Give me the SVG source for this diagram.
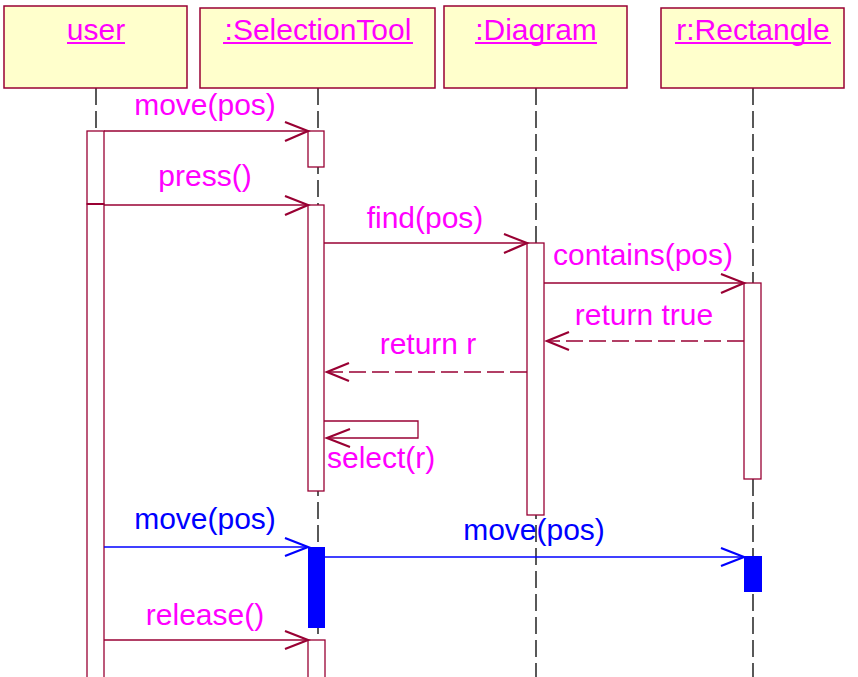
<svg xmlns="http://www.w3.org/2000/svg" width="858" height="677" viewBox="0 0 858 677">
<style>
.box{fill:#FFFFCC;stroke:#990033;stroke-width:1.5}
.act{fill:#FFFFFF;stroke:#990033;stroke-width:1.3}
.actb{fill:#0000FF;stroke:none}
.life{stroke:#000000;stroke-width:1.3;stroke-dasharray:17 6;fill:none}
.msg{stroke:#990033;stroke-width:1.3;fill:none}
.ret{stroke:#990033;stroke-width:1.3;fill:none;stroke-dasharray:17 6}
.msgb{stroke:#0000FF;stroke-width:1.3;fill:none}
.head{stroke:#990033;stroke-width:2.2;fill:none}
.headb{stroke:#0000FF;stroke-width:2.2;fill:none}
text{font-family:"Liberation Sans",Arial,sans-serif;font-size:30px}
.t{fill:#FF00FF}
.tb{fill:#0000FF}
.ul{stroke:#FF00FF;stroke-width:2}
</style>
<g id="lifelines">
<line class="life" x1="96" y1="88" x2="96" y2="131"/>
<line class="life" x1="318" y1="88" x2="318" y2="677"/>
<line class="life" x1="536" y1="88" x2="536" y2="677"/>
<line class="life" x1="753" y1="88" x2="753" y2="677"/>
</g>
<g id="user">
<rect class="box" x="4" y="6" width="183" height="82"/>
<text class="t" x="96" y="40" text-anchor="middle">user</text>
<line class="ul" x1="67" y1="43" x2="125" y2="43"/>
</g>
<g id="selectiontool">
<rect class="box" x="200" y="8" width="235" height="80"/>
<text class="t" x="318" y="40" text-anchor="middle">:SelectionTool</text>
<line class="ul" x1="223" y1="43" x2="413" y2="43"/>
</g>
<g id="diagram">
<rect class="box" x="444" y="6" width="183" height="82"/>
<text class="t" x="536" y="40" text-anchor="middle">:Diagram</text>
<line class="ul" x1="475" y1="43" x2="597" y2="43"/>
</g>
<g id="rectangle">
<rect class="box" x="661" y="8" width="183" height="80"/>
<text class="t" x="753" y="40" text-anchor="middle">r:Rectangle</text>
<line class="ul" x1="675" y1="43" x2="831" y2="43"/>
</g>
<g id="activations">
<rect class="act" x="87" y="131" width="17" height="73"/>
<rect class="act" x="87" y="204" width="17" height="480"/>
<line x1="87" y1="204" x2="104" y2="204" stroke="#990033" stroke-width="2"/>
<rect class="act" x="308" y="131" width="16" height="36"/>
<rect class="act" x="308" y="205" width="16" height="286"/>
<rect class="act" x="527" y="243" width="17" height="272"/>
<rect class="act" x="744" y="283" width="17" height="196"/>
<rect class="actb" x="308" y="547" width="17" height="81"/>
<rect class="act" x="308" y="640" width="17" height="40"/>
<rect class="actb" x="744" y="556" width="18" height="36"/>
</g>
<g id="connectors">
<line class="msg" x1="104" y1="131" x2="308" y2="131"/>
<polyline class="head" points="285,122 308,131 285,141"/>
<line class="msg" x1="104" y1="205" x2="308" y2="205"/>
<polyline class="head" points="285,196 308,205 285,215"/>
<line class="msg" x1="324" y1="243" x2="527" y2="243"/>
<polyline class="head" points="504,234 527,243 504,253"/>
<line class="msg" x1="544" y1="283" x2="744" y2="283"/>
<polyline class="head" points="721,274 744,283 721,293"/>
<line class="ret" x1="744" y1="341" x2="548" y2="341"/>
<polyline class="head" points="569,332 547,341 569,350"/>
<line class="ret" x1="527" y1="372" x2="328" y2="372"/>
<polyline class="head" points="349,363 327,372 349,381"/>
<polyline class="msg" points="324,421 418,421 418,438 327,438"/>
<polyline class="head" points="350,429 327,438 350,447"/>
<line class="msgb" x1="104" y1="547" x2="308" y2="547"/>
<polyline class="headb" points="285,538 308,547 285,556"/>
<line class="msgb" x1="325" y1="557" x2="744" y2="557"/>
<polyline class="headb" points="721,548 744,557 721,566"/>
<line class="msg" x1="104" y1="640" x2="308" y2="640"/>
<polyline class="head" points="285,631 308,640 285,649"/>
</g>
<g id="labels">
<text class="t" x="205" y="115" text-anchor="middle">move(pos)</text>
<text class="t" x="205" y="186" text-anchor="middle">press()</text>
<text class="t" x="425" y="228" text-anchor="middle">find(pos)</text>
<text class="t" x="643" y="265" text-anchor="middle">contains(pos)</text>
<text class="t" x="644" y="325" text-anchor="middle">return true</text>
<text class="t" x="428" y="354" text-anchor="middle">return r</text>
<text class="t" x="327" y="468">select(r)</text>
<text class="tb" x="205" y="529" text-anchor="middle">move(pos)</text>
<text class="tb" x="534" y="540" text-anchor="middle">move(pos)</text>
<text class="t" x="205" y="625" text-anchor="middle">release()</text>
</g>
</svg>
